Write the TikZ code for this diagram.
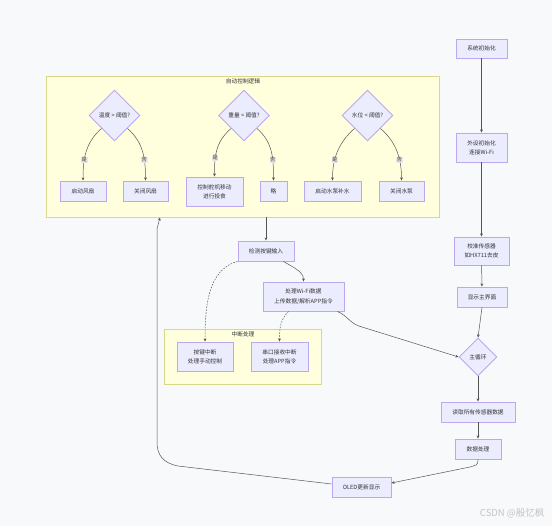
\documentclass[tikz,border=0pt]{standalone}
\usepackage{fontspec}
\setmainfont{Noto Sans CJK SC}
\usetikzlibrary{shapes.geometric,arrows.meta}
\definecolor{bg}{HTML}{F8F9FB}
\definecolor{nodefill}{HTML}{ECECFF}
\definecolor{nodedraw}{HTML}{BBA8EE}
\definecolor{clfill}{HTML}{FFFFDE}
\definecolor{cldraw}{HTML}{D8D88A}
\definecolor{edgec}{HTML}{555555}
\definecolor{lblbg}{HTML}{E8E8E8}
\definecolor{txt}{HTML}{333333}
\definecolor{wm}{HTML}{C4C4C4}
\begin{document}
\begin{tikzpicture}[x=1pt,y=-1pt,
  font=\fontsize{5.7}{9.3}\selectfont,
  box/.style={draw=nodedraw, fill=nodefill, line width=0.9pt, align=center, inner sep=0pt, text=txt},
  dia/.style={diamond, aspect=1, draw=nodedraw, fill=nodefill, line width=0.9pt, inner sep=0pt, text=txt},
  cluster/.style={draw=cldraw, fill=clfill, line width=0.8pt, inner sep=0pt},
  ctitle/.style={text=txt, inner sep=0pt},
  conn/.style={draw=edgec, line width=0.5pt, -{Stealth[length=3.2pt,width=2.8pt]}},
  dotc/.style={conn, dash pattern=on 1.6pt off 1.3pt},
  lbl/.style={fill=lblbg, inner sep=0.6pt, text=txt, font=\fontsize{5.2}{6}\selectfont}]
\fill[bg] (0,0) rectangle (552,526);
\useasboundingbox (0,0) rectangle (552,526);

% clusters
\node[cluster, minimum width=393pt, minimum height=141pt] (auto) at (242.5,146.5) {};
\node[ctitle] (autot) at (243,81) {自动控制逻辑};
\node[cluster, minimum width=157pt, minimum height=55pt] (intr) at (242.5,356.5) {};
\node[ctitle] (intrt) at (243,334) {中断处理};

% auto-control decisions
\node[dia, minimum size=51pt] (d1) at (114.5,115.5) {温度 > 阈值?};
\node[dia, minimum size=51pt] (d2) at (244,115.5) {重量 < 阈值?};
\node[dia, minimum size=51pt] (d3) at (367.5,115.5) {水位 < 阈值?};

\node[box, minimum width=46pt, minimum height=20pt] (b1) at (83,191) {启动风扇};
\node[box, minimum width=45pt, minimum height=20pt] (b2) at (145.5,191) {关闭风扇};
\node[box, minimum width=57pt, minimum height=29pt] (b3) at (214.5,191.5) {控制舵机移动\\进行投食};
\node[box, minimum width=27pt, minimum height=20pt] (b4) at (273.5,191) {略};
\node[box, minimum width=57pt, minimum height=20pt] (b5) at (332.5,191) {启动水泵补水};
\node[box, minimum width=45pt, minimum height=20pt] (b6) at (401.5,191) {关闭水泵};

\draw[conn] (d1.south west) .. controls +(-16,14) and +(0,-22) .. (b1.north) node[lbl,pos=0.66] {是};
\draw[conn] (d1.south east) .. controls +(16,14) and +(0,-22) .. (b2.north) node[lbl,pos=0.66] {否};
\draw[conn] (d2.south west) .. controls +(-16,14) and +(0,-20) .. (b3.north) node[lbl,pos=0.66] {是};
\draw[conn] (d2.south east) .. controls +(16,14) and +(0,-22) .. (b4.north) node[lbl,pos=0.66] {否};
\draw[conn] (d3.south west) .. controls +(-16,14) and +(0,-22) .. (b5.north) node[lbl,pos=0.66] {是};
\draw[conn] (d3.south east) .. controls +(16,14) and +(0,-22) .. (b6.north) node[lbl,pos=0.66] {否};

% right column
\node[box, minimum width=51pt, minimum height=19pt] (sys) at (481.5,48.5) {系统初始化};
\node[box, minimum width=51pt, minimum height=29pt] (per) at (481.5,147.5) {外设初始化\\连接Wi-Fi};
\node[box, minimum width=55pt, minimum height=28pt] (cal) at (481.5,251) {校准传感器\\如HX711去皮};
\node[box, minimum width=50pt, minimum height=20pt] (ui) at (482,297) {显示主界面};
\node[dia, minimum size=38pt] (ml) at (478,357) {主循环};
\node[box, minimum width=74pt, minimum height=20pt] (read) at (478,412) {读取所有传感器数据};
\node[box, minimum width=46pt, minimum height=20pt] (proc) at (478,449) {数据处理};
\node[box, minimum width=59pt, minimum height=20pt] (oled) at (361.5,487) {OLED更新显示};

% middle
\node[box, minimum width=56pt, minimum height=20pt] (key) at (266,251) {检测按键输入};
\node[box, minimum width=81pt, minimum height=29pt] (wifi) at (303.5,296.5) {处理Wi-Fi数据\\上传数据/解析APP指令};
\node[box, minimum width=56pt, minimum height=29pt] (kint) at (205,356.5) {按键中断\\处理手动控制};
\node[box, minimum width=57pt, minimum height=29pt] (sint) at (279.5,356.5) {串口接收中断\\处理APP指令};

% loop coordinates
\coordinate (pb) at (470,467);
\coordinate (wb) at (362,327);
\coordinate (lpA) at (178,466);
\coordinate (lp1) at (157,442);
\coordinate (lp2) at (157,229);
\coordinate (ctop) at (160,217.5);

% right column edges
\draw[conn] (sys) -- (per);
\draw[conn] (per) -- (cal);
\draw[conn] (cal) -- (ui);
\draw[conn] (ui.south) -- (ml.north);
\draw[conn] (ml) -- (read);
\draw[conn] (read) -- (proc);
\draw[conn] (proc.south) .. controls +(0,7) and +(5,-2) .. (pb) -- ([yshift=4pt]oled.east);
\draw[conn] ([yshift=3pt]oled.west) -- (lpA) .. controls (163,463) and (157,455) .. (lp1) -- (lp2) -- (ctop);

% middle edges
\draw[conn] (auto.south -| key.north) -- (key.north);
\draw[conn] ([xshift=-11pt]key.south east) .. controls +(10,6) and +(0,-10) .. (wifi.north);
\draw[dotc] (key.south west) .. controls +(-30,8) and +(0,-34) .. (kint.north);
\draw[dotc] ([xshift=-15pt]wifi.south) .. controls +(-8,8) and +(0,-14) .. (sint.north);
\draw[conn] ([xshift=-7pt]wifi.south east) .. controls (348,316) and (350,324) .. (wb) -- (ml.west);

% watermark
\node[text=wm, font=\fontsize{9.5}{11}\selectfont, anchor=east] (wmk) at (548,513) {CSDN @殷忆枫};
\end{tikzpicture}
\end{document}
